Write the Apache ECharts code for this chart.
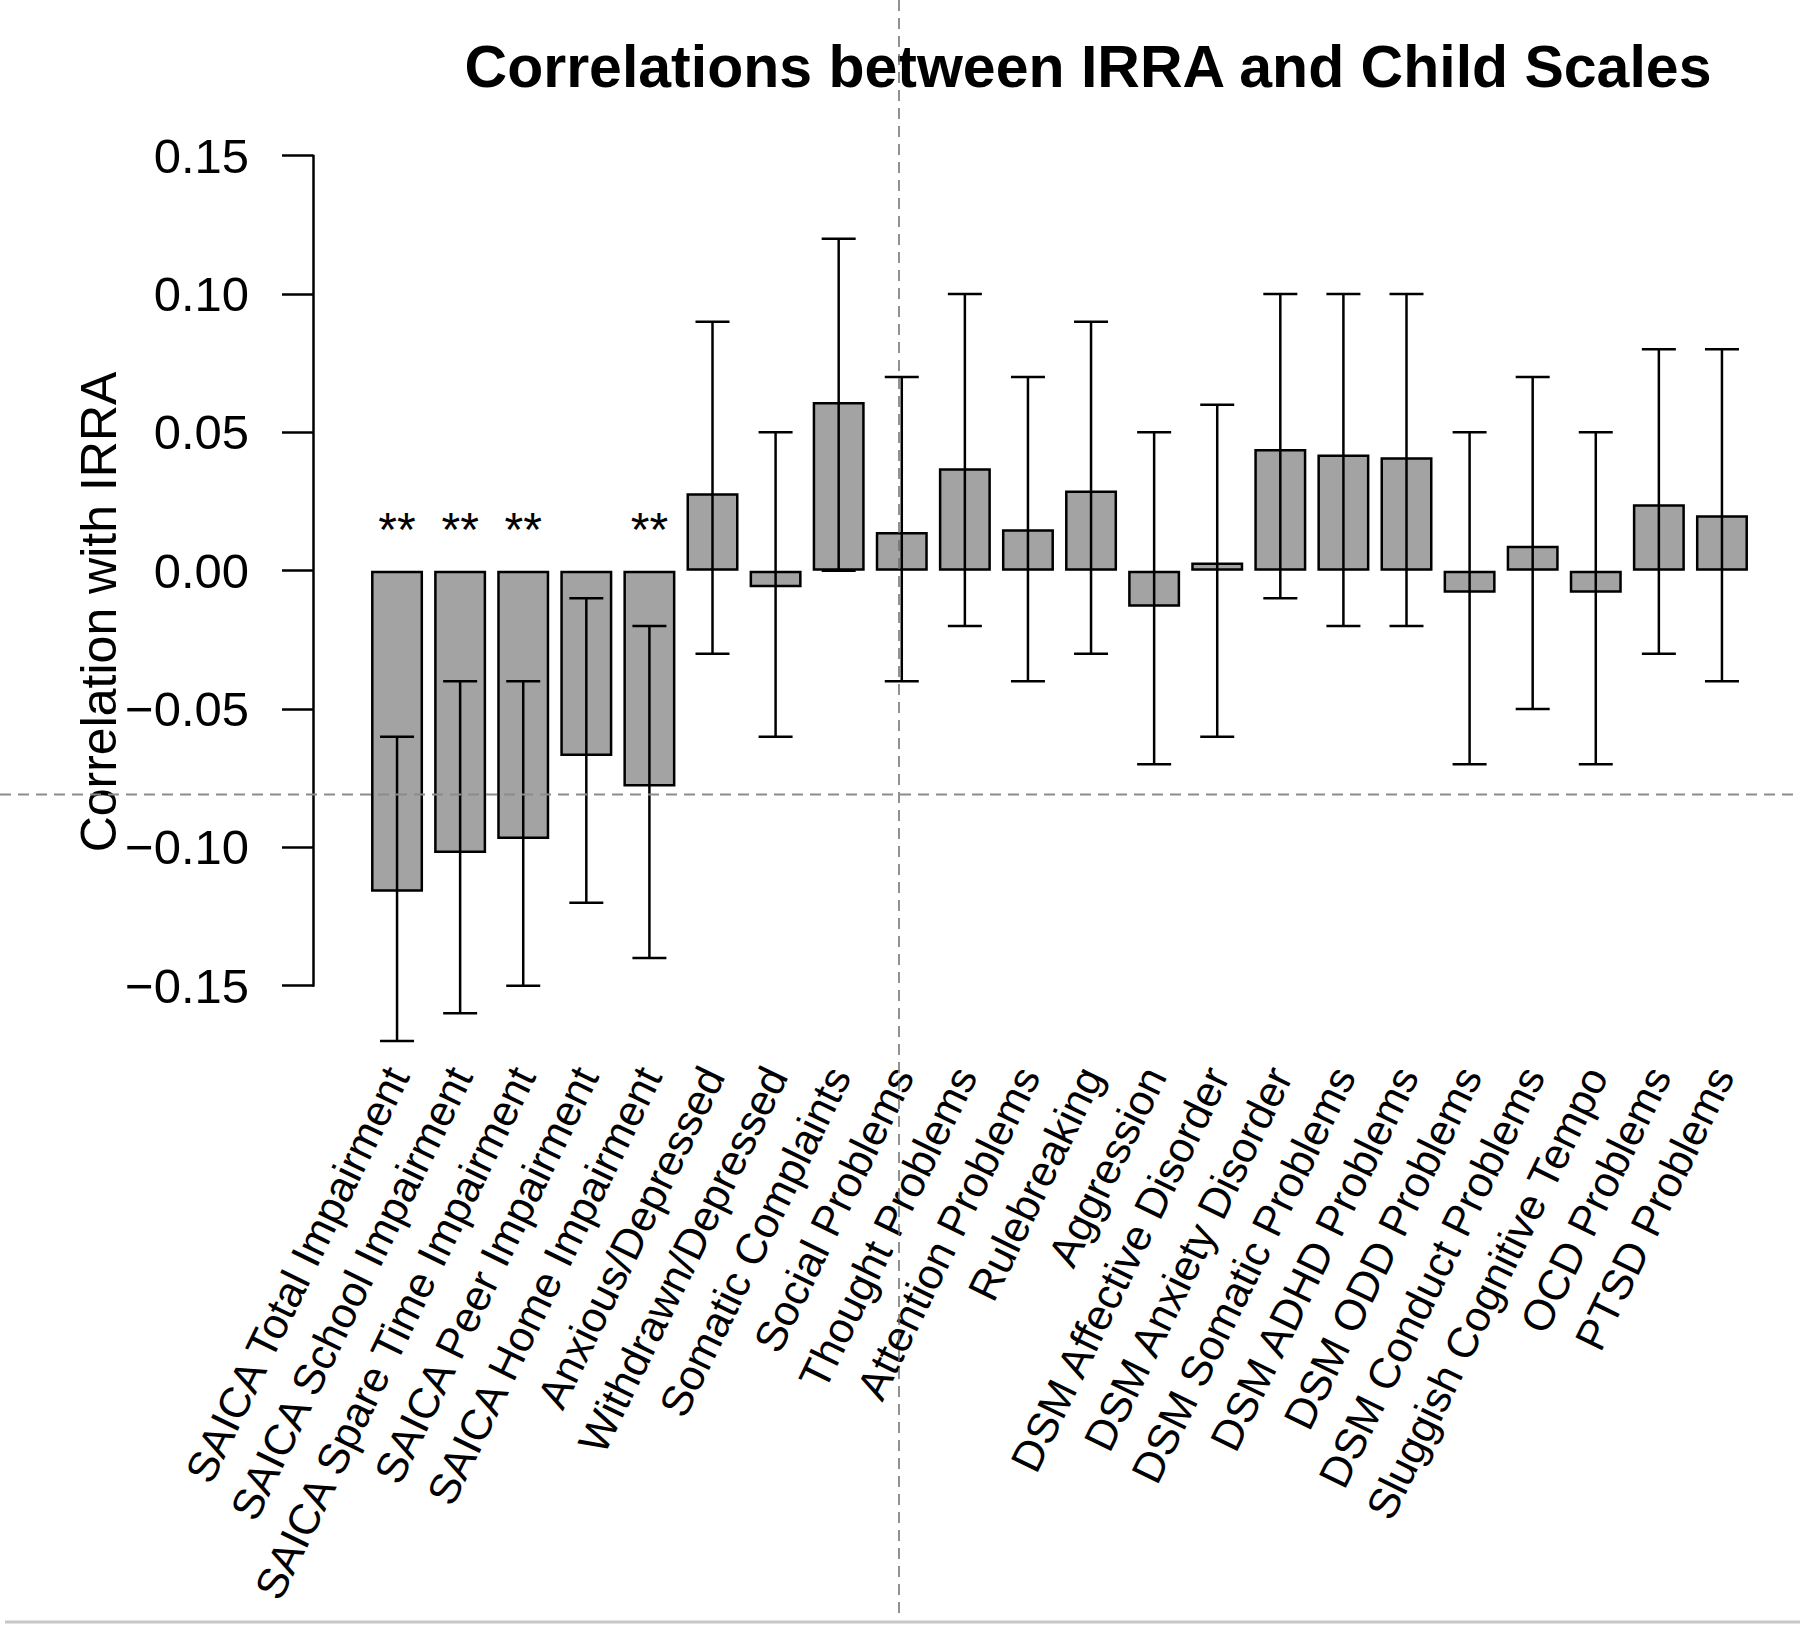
<!DOCTYPE html>
<html>
<head>
<meta charset="utf-8">
<script src="https://cdn.jsdelivr.net/npm/echarts@6/dist/echarts.min.js"></script>
<style>
  html, body { margin: 0; padding: 0; background: #ffffff; }
  #chart { width: 1800px; height: 1629px; }
</style>
</head>
<body>
<div id="chart"></div>
<script>
// ---- Data ----
const categories = [
  'SAICA Total Impairment', 'SAICA School Impairment', 'SAICA Spare Time Impairment',
  'SAICA Peer Impairment', 'SAICA Home Impairment', 'Anxious/Depressed',
  'Withdrawn/Depressed', 'Somatic Complaints', 'Social Problems', 'Thought Problems',
  'Attention Problems', 'Rulebreaking', 'Aggression', 'DSM Affective Disorder',
  'DSM Anxiety Disorder', 'DSM Somatic Problems', 'DSM ADHD Problems',
  'DSM ODD Problems', 'DSM Conduct Problems', 'Sluggish Cognitive Tempo',
  'OCD Problems', 'PTSD Problems'
];
const correlations = [-0.116, -0.102, -0.097, -0.067, -0.078, 0.028, -0.006, 0.061, 0.014, 0.037,
  0.015, 0.029, -0.013, 0.003, 0.044, 0.042, 0.041, -0.008, 0.009, -0.008, 0.024, 0.020];
const ciLower = [-0.17, -0.16, -0.15, -0.12, -0.14, -0.03, -0.06, 0.00, -0.04, -0.02,
  -0.04, -0.03, -0.07, -0.06, -0.01, -0.02, -0.02, -0.07, -0.05, -0.07, -0.03, -0.04];
const ciUpper = [-0.06, -0.04, -0.04, -0.01, -0.02, 0.09, 0.05, 0.12, 0.07, 0.10,
  0.07, 0.09, 0.05, 0.06, 0.10, 0.10, 0.10, 0.05, 0.07, 0.05, 0.08, 0.08];
const significance = ['**', '**', '**', '', '**', '', '', '', '', '', '', '', '', '', '', '', '', '', '', '', '', ''];
const yTicks = { min: -0.15, max: 0.15, interval: 0.05 };
const titleText = 'Correlations between IRRA and Child Scales';
const yAxisTitle = 'Correlation with IRRA';

// ---- Chart ----
const FONT = '"Liberation Sans", Arial, Helvetica, sans-serif';
const chart = echarts.init(document.getElementById('chart'), null, { renderer: 'svg', width: 1800, height: 1629 });

const errData = categories.map((c, i) => [i, ciLower[i], ciUpper[i]]);
const starData = categories.map((c, i) => [i, 0, significance[i]]);

const option = {
  backgroundColor: '#ffffff',
  animation: false,
  grid: { left: 365.5, right: 46.5, top: 155.7, bottom: 643.3, containLabel: false },
  xAxis: {
    type: 'category',
    data: categories,
    boundaryGap: true,
    axisLine: { show: false, onZero: false },
    axisTick: { show: false },
    splitLine: { show: false },
    axisLabel: {
      interval: 0,
      rotate: 64,
      margin: 84,
      fontFamily: FONT,
      fontSize: 43,
      color: '#000000',
      hideOverlap: false
    }
  },
  yAxis: {
    type: 'value',
    min: yTicks.min,
    max: yTicks.max,
    interval: yTicks.interval,
    offset: 52.5,
    axisLine: { show: true, lineStyle: { color: '#000000', width: 2.5 } },
    axisTick: { show: true, length: 31, lineStyle: { color: '#000000', width: 2.5 } },
    splitLine: { show: false },
    axisLabel: {
      margin: 64,
      fontFamily: FONT,
      fontSize: 49,
      color: '#000000',
      formatter: v => (v < -1e-9 ? '\u2212' : '') + Math.abs(v).toFixed(2)
    }
  },
  series: [
    {
      type: 'bar',
      data: correlations,
      barWidth: 52,
      itemStyle: { color: '#a3a3a3', borderColor: '#000000', borderWidth: 2.5 },
      z: 2
    },
    {
      type: 'custom',
      data: errData,
      z: 5,
      clip: false,
      renderItem: function (params, api) {
        const i = api.value(0);
        const lo = api.coord([i, api.value(1)]);
        const hi = api.coord([i, api.value(2)]);
        const half = 17;
        const st = { stroke: '#000000', lineWidth: 2.5 };
        return {
          type: 'group',
          children: [
            { type: 'line', shape: { x1: lo[0], y1: lo[1], x2: hi[0], y2: hi[1] }, style: st },
            { type: 'line', shape: { x1: lo[0] - half, y1: lo[1], x2: lo[0] + half, y2: lo[1] }, style: st },
            { type: 'line', shape: { x1: hi[0] - half, y1: hi[1], x2: hi[0] + half, y2: hi[1] }, style: st }
          ]
        };
      }
    },
    {
      type: 'custom',
      data: starData,
      z: 6,
      clip: false,
      renderItem: function (params, api) {
        const i = api.value(0);
        const p = api.coord([i, api.value(1)]);
        const s = significance[params.dataIndex];
        if (!s) return null;
        return {
          type: 'text',
          x: p[0],
          y: p[1] - 41,
          style: {
            text: s,
            fontFamily: FONT,
            fontSize: 48,
            fill: '#000000',
            align: 'center',
            verticalAlign: 'middle'
          }
        };
      }
    }
  ],
  graphic: [
    {
      type: 'text',
      x: 1088, y: 67,
      style: {
        text: titleText,
        fontFamily: FONT,
        fontWeight: 'bold',
        fontSize: 59,
        fill: '#000000',
        align: 'center',
        verticalAlign: 'middle'
      }
    },
    {
      type: 'text',
      x: 99, y: 612,
      rotation: Math.PI / 2,
      style: {
        text: yAxisTitle,
        fontFamily: FONT,
        fontSize: 50,
        fill: '#000000',
        align: 'center',
        verticalAlign: 'middle'
      }
    },
    {
      type: 'line',
      shape: { x1: 0, y1: 794.5, x2: 1800, y2: 794.5 },
      style: { stroke: '#8c8c8c', lineWidth: 2, lineDash: [11, 7] },
      z: 10
    },
    {
      type: 'line',
      shape: { x1: 899, y1: 0, x2: 899, y2: 1620 },
      style: { stroke: '#6e6e6e', lineWidth: 1.5, lineDash: [11, 7] },
      z: 10
    },
    {
      type: 'line',
      shape: { x1: 5, y1: 1622, x2: 1800, y2: 1622 },
      style: { stroke: '#c8c8c8', lineWidth: 3 },
      z: 10
    }
  ]
};
chart.setOption(option);
</script>
</body>
</html>
